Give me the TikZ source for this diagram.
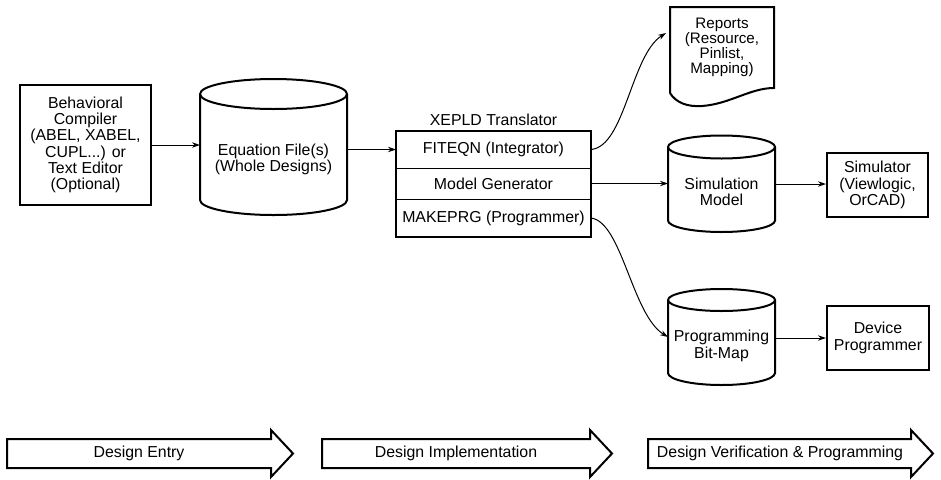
\documentclass[tikz,border=0pt]{standalone}
\usepackage{fontspec}
\setmainfont{Liberation Sans}
\usetikzlibrary{arrows.meta,calc}
\def\pxu{0.75pt}
\begin{document}
\begin{tikzpicture}[x=0.75pt,y=-0.75pt,
  font=\fontsize{11.9}{12.2}\selectfont,
  boxline/.style={line width=1.5pt},
  frame/.style={draw, boxline, align=center, inner sep=0pt},
  area/.style={inner sep=0pt, outer sep=0pt, align=center},
  lbl/.style={align=center, inner sep=0pt},
  flow/.style={line width=0.75pt, -{Stealth[length=6pt,width=4pt]}},
  phase/.style={boxline, fill=white, line join=miter}
]
\useasboundingbox (0,0) rectangle (941,479);

% design entry source
\node[frame, minimum width=131*\pxu, minimum height=120*\pxu] (beh) at (85.5,145)
  {Behavioral\\Compiler\\(ABEL, XABEL,\\CUPL...) or\\Text Editor\\(Optional)};

% equation file store
\node[area, minimum width=147*\pxu, minimum height=136*\pxu] (eq) at (273.5,147) {};
\draw[boxline] (273.5,94) ellipse [x radius=73.5, y radius=15];
\draw[boxline] (200,94) -- (200,200) arc[start angle=180, end angle=0, x radius=73.5, y radius=15] -- (347,94);
\node[lbl] (eqtext) at (273.5,159.5) {Equation File(s)\\(Whole Designs)};

% translator with its three stages
\node[area, minimum width=195*\pxu, minimum height=37*\pxu] (fit) at (493.5,149.5) {FITEQN (Integrator)};
\node[area, minimum width=195*\pxu, minimum height=31*\pxu] (mg) at (493.5,183.5) {Model Generator};
\node[area, minimum width=195*\pxu, minimum height=38*\pxu] (mk) at (493.5,218) {MAKEPRG (Programmer)};
\draw[boxline] (fit.north west) rectangle (mk.south east);
\draw[line width=0.75pt] (fit.south west) -- (fit.south east);
\draw[line width=0.75pt] (mg.south west) -- (mg.south east);
\node[lbl] (xepld) at (493.5,120) {XEPLD Translator};

% reports document
\node[area, minimum width=104*\pxu, minimum height=90*\pxu] (rep) at (722,52) {};
\draw[boxline, line join=miter] (670,93) -- (670,7) -- (774,7) -- (774,88)
  .. controls (750,88) and (730,104) .. (702,106)
  .. controls (688,107) and (676,103) .. (670,93);
\node[lbl, font=\fontsize{11.4}{11.4}\selectfont] (reptext) at (722,47.5) {Reports\\(Resource,\\Pinlist,\\Mapping)};
\coordinate (repin) at ($(rep.west)+(-4,-19)$);

% simulation model store
\node[area, minimum width=107*\pxu, minimum height=97*\pxu] (simc) at (721.5,184) {};
\draw[boxline] (721.5,147) ellipse [x radius=53.5, y radius=11.5];
\draw[boxline] (668,147) -- (668,220.5) arc[start angle=180, end angle=0, x radius=53.5, y radius=11.5] -- (775,147);
\node[lbl] (simtext) at (721.5,191.5) {Simulation\\Model};

\node[frame, minimum width=101*\pxu, minimum height=64*\pxu] (simr) at (877.5,185) {Simulator\\(Viewlogic,\\OrCAD)};

% programming bit-map store
\node[area, minimum width=107*\pxu, minimum height=96*\pxu] (prog) at (721.5,337) {};
\draw[boxline] (721.5,300) ellipse [x radius=53.5, y radius=11];
\draw[boxline] (668,300) -- (668,373) arc[start angle=180, end angle=0, x radius=53.5, y radius=12] -- (775,300);
\node[lbl] (progtext) at (721.5,346) {Programming\\Bit-Map};

\node[frame, minimum width=102*\pxu, minimum height=64*\pxu] (dev) at (878,338) {Device\\Programmer};

% connectors
\draw[flow] (beh.east) -- (beh.east -| eq.west);
\draw[flow] (eq.east |- fit.west) -- (fit.west);
\draw[flow] (mg.east) -- (mg.east -| simc.west);
\draw[flow] (simc.east) -- (simc.east -| simr.west);
\draw[flow] (prog.east |- dev.west) -- (dev.west);
\draw[flow] (fit.east) .. controls +(34,-3) and +(-35,22) .. (repin);
\draw[flow] (mk.east) .. controls +(31,4) and +(-36,-22) .. (prog.west);

% phase arrows
\draw[phase] (7,439) -- (271,439) -- (271,430) -- (293,453.5) -- (271,477) -- (271,468) -- (7,468) -- cycle;
\node[lbl] (ph1) at (139,453.5) {Design Entry};
\draw[phase] (322,439) -- (590,439) -- (590,430) -- (612,453.5) -- (590,477) -- (590,468) -- (322,468) -- cycle;
\node[lbl] (ph2) at (456,453.5) {Design Implementation};
\draw[phase] (648,439) -- (911,439) -- (911,430) -- (933,453.5) -- (911,477) -- (911,468) -- (648,468) -- cycle;
\node[lbl] (ph3) at (780,453.5) {Design Verification \& Programming};
\end{tikzpicture}
\end{document}
